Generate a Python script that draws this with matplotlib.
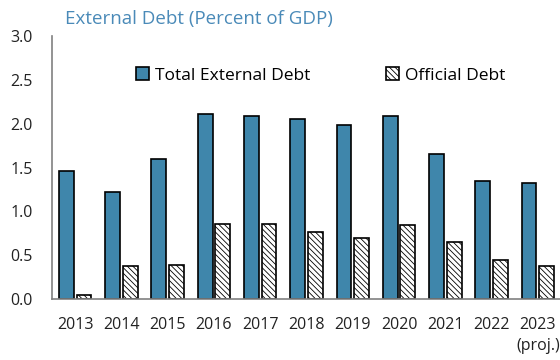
import matplotlib
matplotlib.use("Agg")
import matplotlib.pyplot as plt
import numpy as np

years = ["2013", "2014", "2015", "2016", "2017", "2018", "2019", "2020", "2021", "2022", "2023\n(proj.)"]
total_external = [1.46, 1.22, 1.60, 2.11, 2.09, 2.05, 1.99, 2.09, 1.65, 1.35, 1.32]
official = [0.05, 0.38, 0.39, 0.86, 0.86, 0.76, 0.70, 0.84, 0.65, 0.45, 0.38]

plt.rcParams['font.family'] = ['Open Sans', 'DejaVu Sans']
plt.rcParams['hatch.linewidth'] = 0.6

fig = plt.figure(figsize=(5.6, 3.6), dpi=100)
ax = fig.add_axes([52/560, 61/360, 509/560, 263/360])

x = np.arange(len(years))
w = 0.32
off = 0.19
ax.bar(x - off, total_external, width=w, color="#3f86ab", edgecolor="black",
       linewidth=1.2, label="Total External Debt")
ax.bar(x + off, official, width=w, color="white", edgecolor="black",
       linewidth=1.2, hatch="\\\\\\\\\\\\", label="Official Debt")

ax.set_xlim(-0.5, len(years) - 0.5)
ax.set_ylim(0, 3.0)
ax.set_yticks(np.arange(0, 3.01, 0.5))
ax.set_yticklabels([f"{v:.1f}" for v in np.arange(0, 3.01, 0.5)])
ax.set_xticks(x)
ax.set_xticklabels(years, linespacing=1.45)
for lbl in ax.get_xticklabels():
    lbl.set_horizontalalignment("center")
ax.tick_params(axis="both", length=0, labelsize=11.5, colors="#222222")
ax.tick_params(axis="x", pad=13)
ax.tick_params(axis="y", pad=14)

for s in ["top", "right"]:
    ax.spines[s].set_visible(False)
for s in ["left", "bottom"]:
    ax.spines[s].set_color("#808080")
    ax.spines[s].set_linewidth(1.2)

fig.text(65/560, 1 - 19/360, "External Debt (Percent of GDP)", color="#4a8ab8",
         fontsize=13.5, va="center", ha="left")

ax.legend(loc="upper left", bbox_to_anchor=(0.135, 0.94), ncol=2, frameon=False,
          fontsize=12.5, handlelength=0.75, handleheight=0.75, handletextpad=0.3,
          columnspacing=4.4)

fig.savefig("out.png", dpi=100)
